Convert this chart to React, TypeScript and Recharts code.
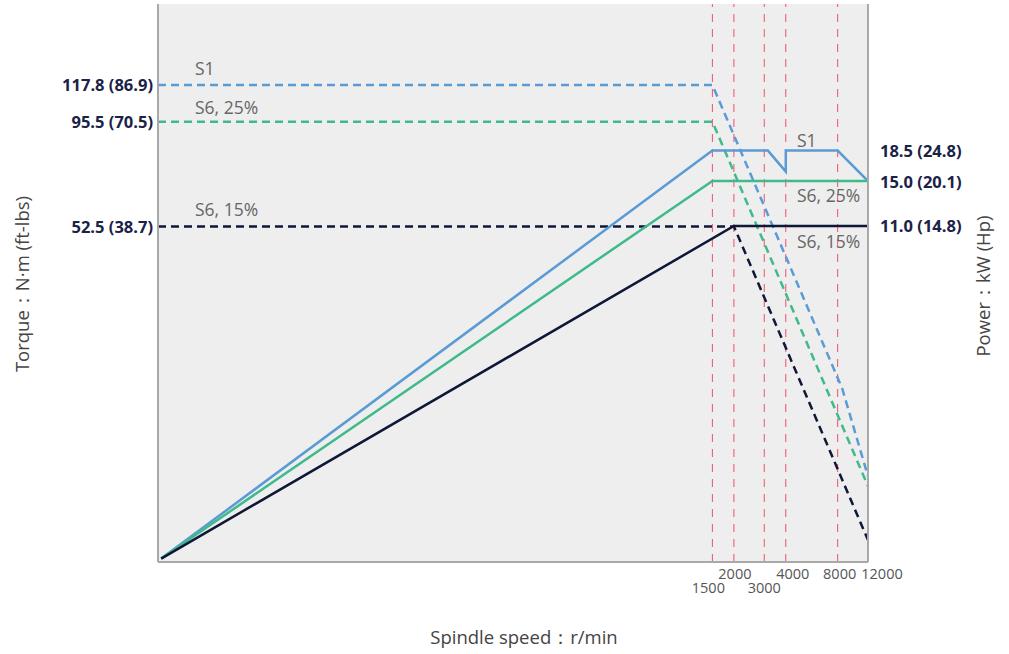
import React from 'react';
import { LineChart, Line, XAxis, YAxis, CartesianGrid, ReferenceLine } from 'recharts';

// ---- data ----
const speedTicks = [1500, 2000, 3000, 4000, 8000, 12000];
const torqueTicks = [117.8, 95.5, 52.5];
const torqueFtLbs = [86.9, 70.5, 38.7];
const powerTicks = [18.5, 15.0, 11.0];
const powerHp = [24.8, 20.1, 14.8];

const s1TorqueSpeed = [0.91, 1500, 8500, 12000];
const s1Torque = [117.8, 117.8, 20.8, 12.6];
const s625TorqueSpeed = [0.91, 1500, 12000];
const s625Torque = [95.5, 95.5, 11.9];
const s615TorqueSpeed = [0.91, 2000, 12000];
const s615Torque = [52.5, 52.5, 8.75];

const s1PowerSpeed = [0.95, 1500, 3150, 4000, 4000, 8000, 12000];
const s1Power = [1.11, 18.5, 18.5, 16.0, 18.5, 18.5, 15.0];
const s625PowerSpeed = [0.95, 1500, 12000];
const s625Power = [1.11, 15.0, 15.0];
const s615PowerSpeed = [0.95, 2000, 12000];
const s615Power = [1.11, 11.0, 11.0];

const seriesNames = ['S1', 'S6, 25%', 'S6, 15%'];

// ---- styles ----
const W = 1009;
const H = 654;
const FONT = '"Open Sans", "Noto Sans", sans-serif';
const BLUE = '#5b9bd5';
const GREEN = '#3fba8a';
const NAVY = '#0f1738';
const LABEL_NAVY = '#1a2247';
const GREY_TEXT = '#666666';
const AXIS_GREY = '#a9a9a9';
const RED = '#f0506a';

const xDomain = [0.91, 12000];
const torqueDomain = [7.72, 187];
const powerDomain = [1.084, 50.85];

const xTickStyle: Record<number, { dx: number; y: number }> = {
  1500: { dx: -4, y: 587 },
  2000: { dx: 1, y: 573 },
  3000: { dx: 0, y: 587 },
  4000: { dx: 7, y: 573 },
  8000: { dx: 2, y: 573 },
  12000: { dx: 14, y: 573 },
};

const zip = (xs: number[], ys: number[]) => xs.map((x, i) => ({ speed: x, value: ys[i] }));

const XTick = (props: any) => {
  const { x, payload } = props;
  const st = xTickStyle[payload.value] || { dx: 0, y: 580 };
  return (
    <text x={x + st.dx} y={st.y} textAnchor="middle" dominantBaseline="central"
      fontFamily={FONT} fontSize={14.5} fill="#555">
      {payload.value}
    </text>
  );
};

const LeftTick = (props: any) => {
  const { y, payload } = props;
  const i = torqueTicks.indexOf(payload.value);
  return (
    <text x={153} y={y} textAnchor="end" dominantBaseline="central"
      fontFamily={FONT} fontSize={16.5} fontWeight={700} fill={LABEL_NAVY}>
      {`${payload.value.toFixed(1)} (${torqueFtLbs[i].toFixed(1)})`}
    </text>
  );
};

const RightTick = (props: any) => {
  const { y, payload } = props;
  const i = powerTicks.indexOf(payload.value);
  return (
    <text x={880} y={y} textAnchor="start" dominantBaseline="central"
      fontFamily={FONT} fontSize={16.5} fontWeight={700} fill={LABEL_NAVY}>
      {`${payload.value.toFixed(1)} (${powerHp[i].toFixed(1)})`}
    </text>
  );
};

const seriesLabel = (text: string, x: number, dy: number) => (props: any) => {
  const vb = props.viewBox || {};
  return (
    <text x={x} y={(vb.y || 0) + dy} textAnchor="start" dominantBaseline="central"
      fontFamily={FONT} fontSize={17.5} fill={GREY_TEXT}>
      {text}
    </text>
  );
};

export default function App() {
  return (
    <div style={{ position: 'absolute', left: 0, top: 0, width: W, height: H, background: '#fff' }}>
      <LineChart width={W} height={H} margin={{ top: 4, right: 0, bottom: 0, left: 0 }}>
        <CartesianGrid fill="#eeeeee" stroke="none" horizontal={false} vertical={false}
          yAxisId="torque" />
        <XAxis dataKey="speed" type="number" scale="log" domain={xDomain} allowDataOverflow
          ticks={speedTicks} tick={<XTick />} tickLine={false} interval={0}
          axisLine={{ stroke: AXIS_GREY, strokeWidth: 2 }} height={92} />
        <YAxis yAxisId="torque" orientation="left" type="number" scale="log" domain={torqueDomain}
          allowDataOverflow ticks={torqueTicks} tick={<LeftTick />} tickLine={false} interval={0}
          axisLine={{ stroke: AXIS_GREY, strokeWidth: 2 }} width={158} />
        <YAxis yAxisId="power" orientation="right" type="number" scale="log" domain={powerDomain}
          allowDataOverflow ticks={powerTicks} tick={<RightTick />} tickLine={false} interval={0}
          axisLine={{ stroke: AXIS_GREY, strokeWidth: 2 }} width={141} />

        {speedTicks.slice(0, 5).map((s) => (
          <ReferenceLine key={s} x={s} yAxisId="torque" stroke={RED} strokeWidth={1}
            strokeDasharray="8 7" />
        ))}

        <ReferenceLine y={torqueTicks[0]} yAxisId="torque" stroke="none"
          label={seriesLabel(seriesNames[0], 195, -17)} />
        <ReferenceLine y={torqueTicks[1]} yAxisId="torque" stroke="none"
          label={seriesLabel(seriesNames[1], 195, -15)} />
        <ReferenceLine y={torqueTicks[2]} yAxisId="torque" stroke="none"
          label={seriesLabel(seriesNames[2], 195, -17)} />
        <ReferenceLine y={powerTicks[0]} yAxisId="power" stroke="none"
          label={seriesLabel(seriesNames[0], 797, -11)} />
        <ReferenceLine y={powerTicks[1]} yAxisId="power" stroke="none"
          label={seriesLabel(seriesNames[1], 797, 14)} />
        <ReferenceLine y={powerTicks[2]} yAxisId="power" stroke="none"
          label={seriesLabel(seriesNames[2], 797, 15)} />

        <Line data={zip(s1TorqueSpeed, s1Torque)} dataKey="value" yAxisId="torque" stroke={BLUE}
          strokeWidth={2.5} strokeDasharray="8 5" dot={false} isAnimationActive={false} />
        <Line data={zip(s625TorqueSpeed, s625Torque)} dataKey="value" yAxisId="torque" stroke={GREEN}
          strokeWidth={2.5} strokeDasharray="8 5" dot={false} isAnimationActive={false} />
        <Line data={zip(s615TorqueSpeed, s615Torque)} dataKey="value" yAxisId="torque" stroke={NAVY}
          strokeWidth={2.5} strokeDasharray="8 5" dot={false} isAnimationActive={false} />

        <Line data={zip(s1PowerSpeed, s1Power)} dataKey="value" yAxisId="power" stroke={BLUE}
          strokeWidth={2.5} dot={false} isAnimationActive={false} />
        <Line data={zip(s625PowerSpeed, s625Power)} dataKey="value" yAxisId="power" stroke={GREEN}
          strokeWidth={2.5} dot={false} isAnimationActive={false} />
        <Line data={zip(s615PowerSpeed, s615Power)} dataKey="value" yAxisId="power" stroke={NAVY}
          strokeWidth={2.5} dot={false} isAnimationActive={false} />
      </LineChart>

      <div style={{ position: 'absolute', left: 22, top: 284, transform: 'translate(-50%, -50%) rotate(-90deg)',
        whiteSpace: 'nowrap', fontFamily: FONT, fontSize: 18.5, color: '#444' }}>
        Torque：N·m (ft-lbs)
      </div>
      <div style={{ position: 'absolute', left: 983, top: 286, transform: 'translate(-50%, -50%) rotate(-90deg)',
        whiteSpace: 'nowrap', fontFamily: FONT, fontSize: 18.5, color: '#444' }}>
        Power：kW (Hp)
      </div>
      <div style={{ position: 'absolute', left: 524, top: 637, transform: 'translate(-50%, -50%)',
        whiteSpace: 'nowrap', fontFamily: FONT, fontSize: 18.5, color: '#444' }}>
        Spindle speed：r/min
      </div>
    </div>
  );
}
